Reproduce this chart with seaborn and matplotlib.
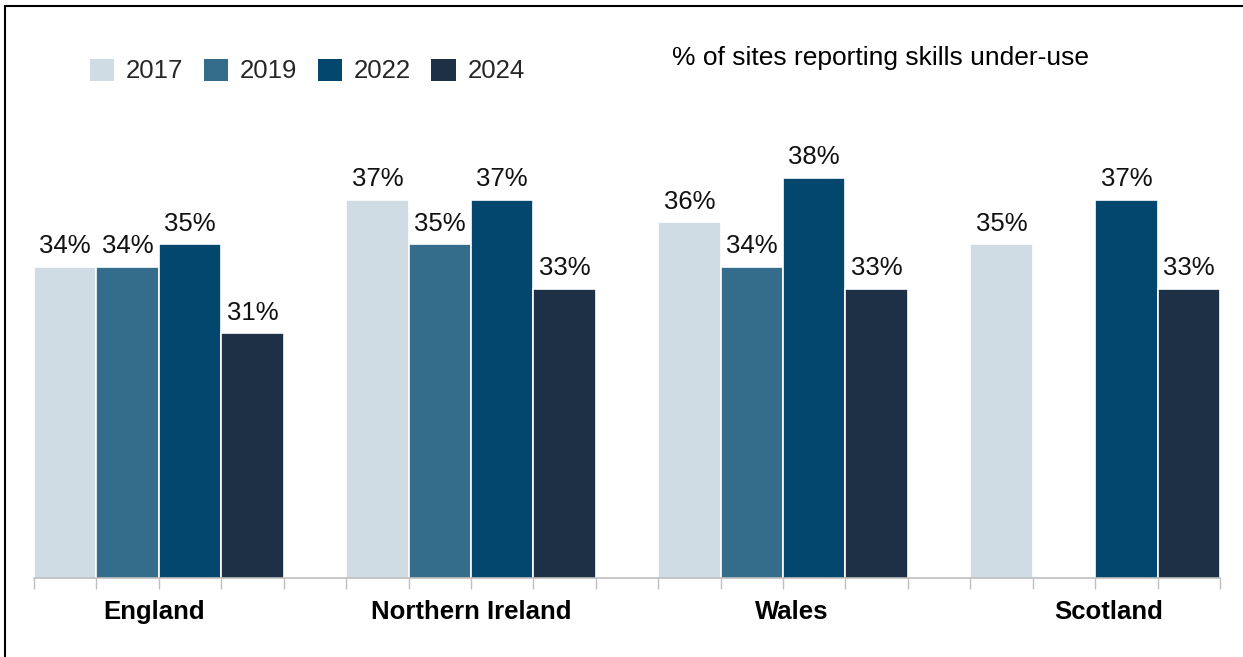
import matplotlib
matplotlib.use("Agg")
import matplotlib.pyplot as plt
from matplotlib.patches import Patch
from matplotlib.lines import Line2D
import numpy as np
import pandas as pd
import seaborn as sns

# Skills under-use by nation and survey year
nations = ["England", "Northern Ireland", "Wales", "Scotland"]
years = ["2017", "2019", "2022", "2024"]
england = [34, 34, 35, 31]
northern_ireland = [37, 35, 37, 33]
wales = [36, 34, 38, 33]
scotland = [35, None, 37, 33]
colors = ["#CFDCE3", "#346C8C", "#03476E", "#1E3046"]
title = "% of sites reporting skills under-use"

values = [england, northern_ireland, wales, scotland]

# One slot per bar plus an empty spacer slot between nations
slots = []
rows = []
for gi, (nation, vals) in enumerate(zip(nations, values)):
    for year, v in zip(years, vals):
        slot = f"{nation}|{year}"
        slots.append(slot)
        if v is not None:
            rows.append({"slot": slot, "value": v, "year": year})
    if gi < len(nations) - 1:
        slots.append(f"gap{gi}")
df = pd.DataFrame(rows)

sns.set_theme(style="white")
plt.rcParams["font.family"] = ["Liberation Sans", "DejaVu Sans"]

fig = plt.figure(figsize=(12.43, 6.57), dpi=100)
ax = fig.add_axes([34 / 1243, (657 - 578) / 657, (1220 - 34) / 1243, (578 - 95) / 657])

sns.barplot(data=df, x="slot", y="value", hue="year", order=slots,
            hue_order=years, palette=colors, saturation=1, dodge=False, width=1.0,
            edgecolor="white", linewidth=1.2, legend=False, ax=ax)

ymin = 20
px_per_pct = 22.25
ax.set_ylim(ymin, ymin + (578 - 95) / px_per_pct)
ax.set_xlim(-0.5, len(slots) - 0.5)

for cont in ax.containers:
    ax.bar_label(cont, fmt="%.0f%%", padding=6, fontsize=18.5, color="#111111")

# Axis styling: only a grey baseline with slot tick marks
for side in ["top", "right", "left"]:
    ax.spines[side].set_visible(False)
ax.spines["bottom"].set_color("#BFBFBF")
ax.spines["bottom"].set_linewidth(1.2)
ax.set_yticks([])
ax.set_xticks(np.arange(-0.5, len(slots), 1.0))
ax.set_xticklabels([])
ax.tick_params(axis="x", length=8, width=1, color="#BFBFBF", bottom=True, direction="out")
ax.set_xlabel("")
ax.set_ylabel("")

# Nation labels under each cluster
label_offsets = [-0.08, 0.0, 0.14, 0.22]
for gi, nation in enumerate(nations):
    center = gi * 5 + 1.5 + label_offsets[gi]
    ax.text(center, -0.07, nation, transform=ax.get_xaxis_transform(),
            ha="center", va="center", fontsize=18.5, fontweight="bold", color="black")

handles = [Patch(facecolor=c, edgecolor="none", label=y) for c, y in zip(colors, years)]
fig.legend(handles=handles, loc="center left", bbox_to_anchor=(90 / 1243, 1 - 71 / 657),
           ncol=4, frameon=False, fontsize=18.5, handlelength=0.95, handleheight=0.95,
           handletextpad=0.45, columnspacing=0.8, borderaxespad=0, borderpad=0)

fig.text(672 / 1243, 1 - 58 / 657, title, ha="left", va="center", fontsize=19, color="black")

# Frame lines along the top and left edge
fig.add_artist(Line2D([5 / 1243, 1.0], [1 - 6 / 657, 1 - 6 / 657], color="black", linewidth=1.5,
                      transform=fig.transFigure))
fig.add_artist(Line2D([5 / 1243, 5 / 1243], [0, 1 - 6 / 657], color="black", linewidth=1.5,
                      transform=fig.transFigure))

fig.savefig("out.png", dpi=100, facecolor="white")
